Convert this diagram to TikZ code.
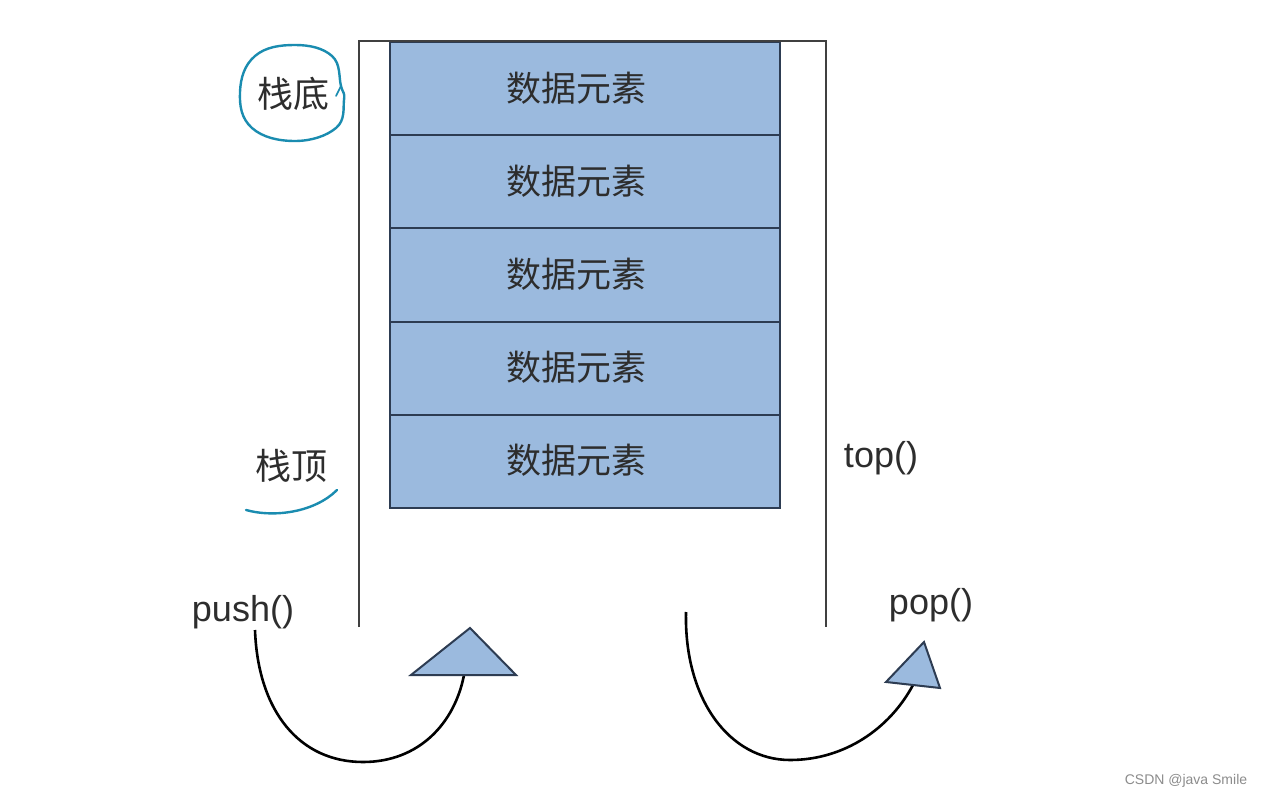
\documentclass[tikz,border=0pt]{standalone}
\usepackage{fontspec}
\setmainfont{Liberation Sans}
\newfontfamily\cjk{Noto Sans CJK SC}
\definecolor{cellblue}{RGB}{155,186,222}
\definecolor{celledge}{RGB}{45,60,82}
\definecolor{pen}{RGB}{26,140,176}
\definecolor{txt}{RGB}{45,45,45}
\begin{document}
\begin{tikzpicture}[x=1pt,y=-1pt,
  cell/.style={draw=celledge,line width=2pt,fill=cellblue,minimum width=390pt,minimum height=93.2pt,inner sep=0pt,anchor=north west},
  celltext/.style={font=\cjk\fontsize{35}{35}\selectfont,text=txt},
  wall/.style={draw=black!75,line width=1.8pt},
  arc/.style={draw=black,line width=2.6pt},
  tri/.style={draw=celledge,line width=2pt,fill=cellblue,line join=miter},
  lab/.style={font=\cjk\fontsize{36}{36}\selectfont,text=txt},
  fn/.style={font=\fontsize{36}{36}\selectfont,text=txt},
  hand/.style={draw=pen,line width=2.4pt,line cap=round}]
\useasboundingbox[fill=white] (0,0) rectangle (1267,799);
% stack cells
\node[cell] (c1) at (389,41) {};
\node[cell] (c2) at (389,134.2) {};
\node[cell] (c3) at (389,227.4) {};
\node[cell] (c4) at (389,320.6) {};
\node[cell] (c5) at (389,413.8) {};
\node[celltext] (t1) at (576,88) {数据元素};
\node[celltext] (t2) at (576,181) {数据元素};
\node[celltext] (t3) at (576,274) {数据元素};
\node[celltext] (t4) at (576,367) {数据元素};
\node[celltext] (t5) at (576,460) {数据元素};
% container
\draw[wall] (359,627) -- (359,41) -- (826,41) -- (826,627);
% labels
\node[lab] (bottom) at (293,94) {栈底};
\node[lab] (topl) at (291,466) {栈顶};
\node[fn] (top) at (881,458) {top()};
\node[fn] (push) at (243,612) {push()};
\node[fn] (pop) at (931,605) {pop()};
\node[font=\fontsize{14}{14}\selectfont,text=black!45] (wm) at (1186,781) {CSDN @java Smile};
% hand annotations
\draw[hand] plot[smooth cycle,tension=0.7] coordinates {(341,86) (332,56) (295,45) (255,56) (240,92) (252,128) (295,141) (336,128) (344,100)};
\draw[hand,line width=1.6pt] (341,86) -- (336,96);
\draw[hand] (246,510) .. controls (275,518) and (315,512) .. (337,490);
% push arrow
\coordinate (ps) at (255,630);
\coordinate (pe) at (464,675);
\draw[arc] (ps) .. controls (258,712) and (300,762) .. (363,762) .. controls (420,762) and (455,722) .. (pe);
\draw[tri] (411,675) -- (516,675) -- (470,628) -- cycle;
% pop arrow
\coordinate (os) at (686,612);
\coordinate (oe) at (913,685);
\draw[arc] (os) .. controls (684,700) and (730,760) .. (790,760) .. controls (845,760) and (890,728) .. (oe);
\draw[tri] (886,682) -- (940,688) -- (924,642) -- cycle;
\end{tikzpicture}
\end{document}
